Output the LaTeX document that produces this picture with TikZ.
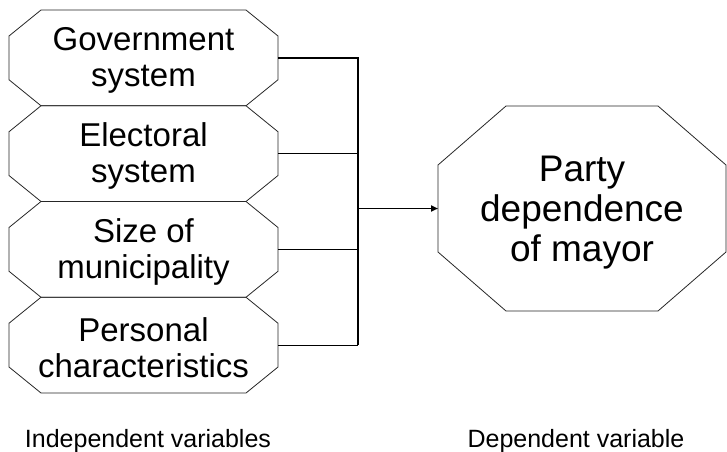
\documentclass[tikz,border=0pt]{standalone}
\usepackage{fontspec}
\setmainfont{Liberation Sans}
\usetikzlibrary{arrows.meta}
\newcommand{\octbox}[6]{% x1 y1 x2 y2 cutx cuty (y positive downward)
  \draw[octline] (#1+#5,-#2) -- (#3-#5,-#2) -- (#3,-#2-#6) -- (#3,-#4+#6) -- (#3-#5,-#4) -- (#1+#5,-#4) -- (#1,-#4+#6) -- (#1,-#2-#6) -- cycle;}
\tikzset{
  octline/.style={draw=black!85, line width=0.8pt, line join=miter},
  conn/.style={draw=black, line width=1.2pt},
  arr/.style={draw=black, line width=1.8pt, -{Triangle[length=7pt,width=6pt]}},
  boxtext/.style={align=center, inner sep=0pt, font=\fontsize{33}{36}\selectfont},
  bigtext/.style={align=center, inner sep=0pt, font=\fontsize{37}{40}\selectfont},
  labeltext/.style={anchor=base, inner sep=0pt, font=\fontsize{25}{28}\selectfont},
}
\begin{document}
\begin{tikzpicture}[x=1pt,y=1pt]
\useasboundingbox (0,0) rectangle (727,-451);
% left octagons
\octbox{9}{10}{278}{105.75}{32}{26}
\octbox{9}{105.75}{278}{201.5}{32}{26}
\octbox{9}{201.5}{278}{297.25}{32}{26}
\octbox{9}{297.25}{278}{393}{32}{26}
% right octagon
\octbox{438}{106}{726}{311}{68}{59}

\node[boxtext] (g1) at (143.5,-60) {Government\\system};
\node[boxtext] (g2) at (143.5,-156) {Electoral\\system};
\node[boxtext] (g3) at (143.5,-252) {Size of\\municipality};
\node[boxtext] (g4) at (143.5,-348) {Personal\\characteristics};
\node[bigtext] (dep) at (582,-213) {Party\\dependence\\of mayor};

\coordinate (e1) at (278,-57.9);
\coordinate (e2) at (278,-153.6);
\coordinate (e3) at (278,-249.4);
\coordinate (e4) at (278,-345.1);
\coordinate (j4) at (358,-345.1);
\coordinate (jm) at (358,-208.5);
\coordinate (dw) at (438,-208.5);

\draw[conn] (e1) -| (j4);
\draw[conn] (e2) -- (e2 -| j4);
\draw[conn] (e3) -- (e3 -| j4);
\draw[conn] (e4) -- (j4);
\draw[arr] (jm) -- (dw);

\node[labeltext] (li) at (148,-447) {Independent variables};
\node[labeltext] (ld) at (576,-447) {Dependent variable};
\end{tikzpicture}
\end{document}
